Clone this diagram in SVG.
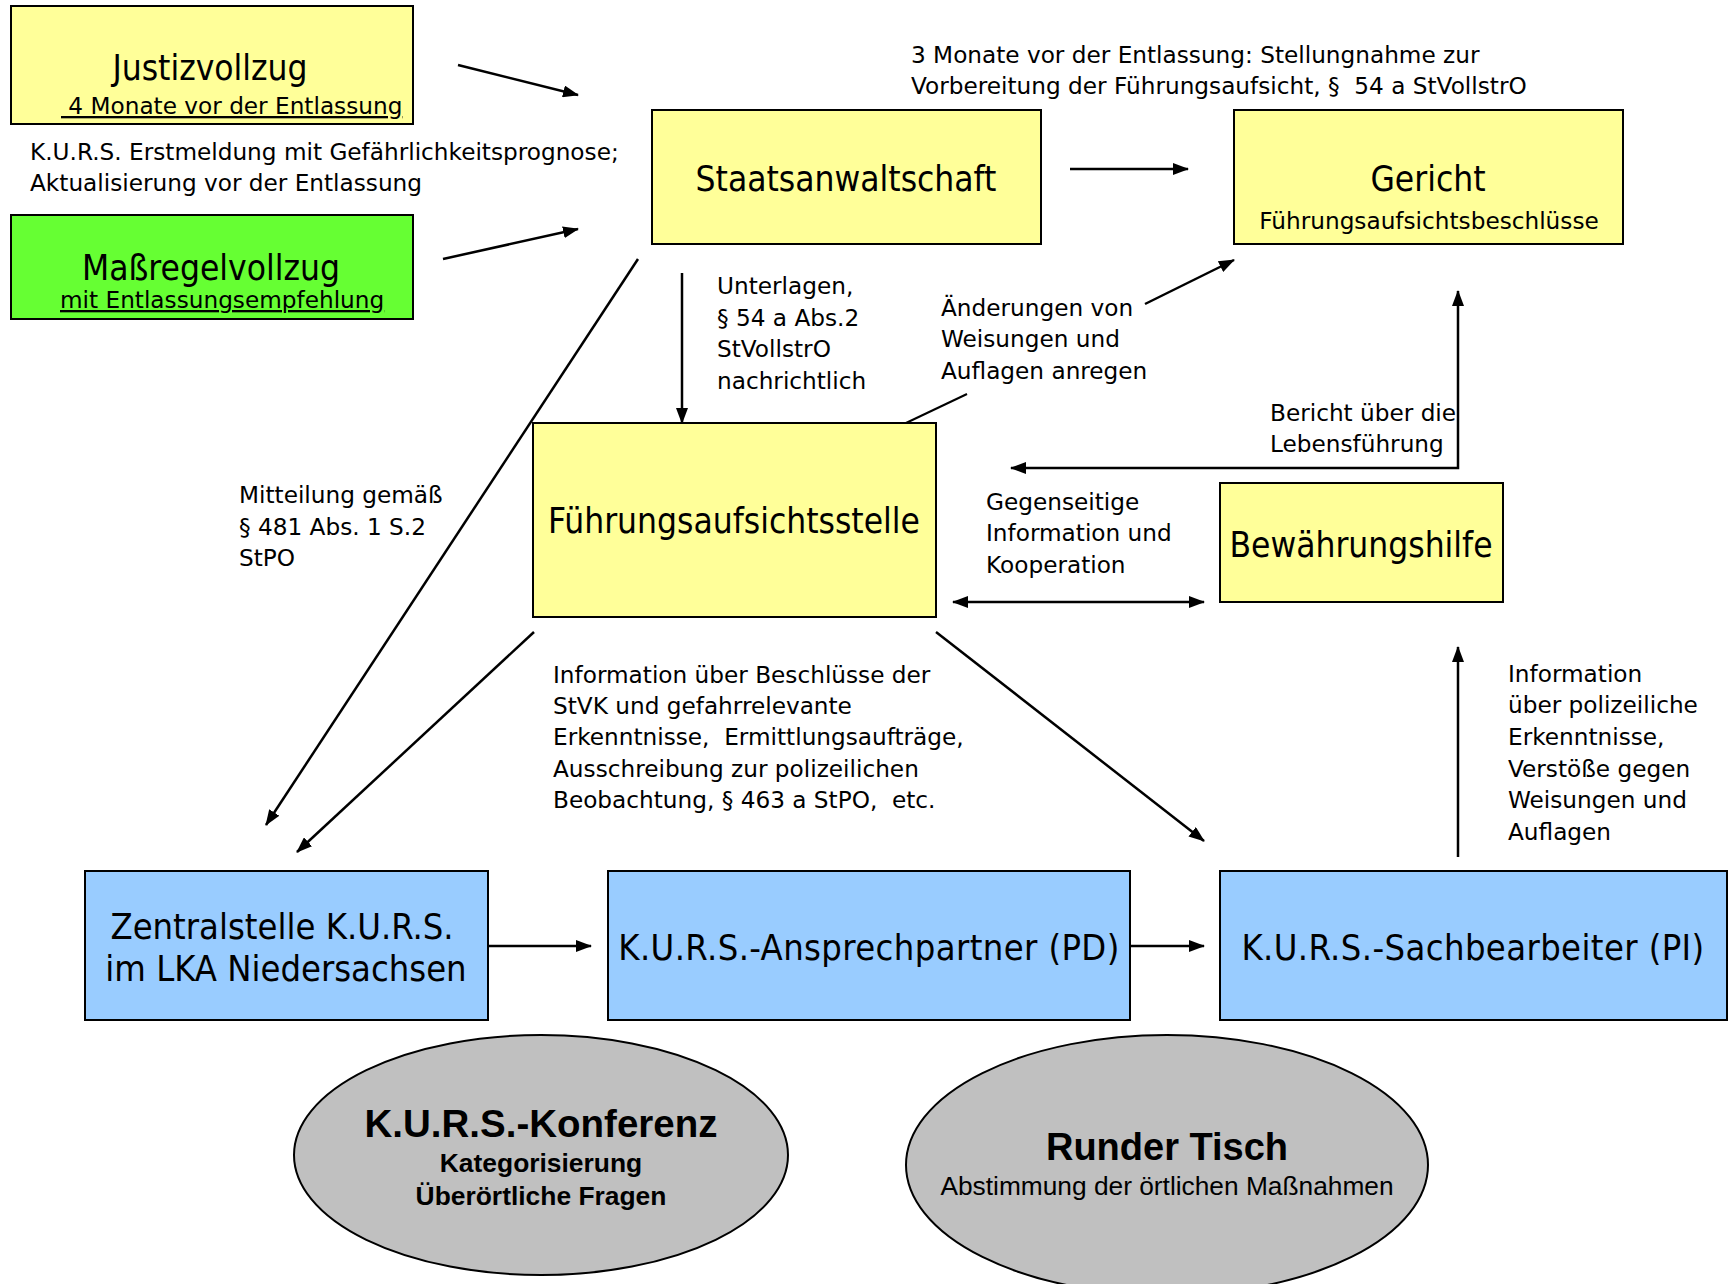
<svg xmlns="http://www.w3.org/2000/svg" width="1733" height="1284" viewBox="0 0 1733 1284">
<defs>
<marker id="ah" viewBox="0 0 16 12" refX="15" refY="6" markerWidth="16" markerHeight="12" markerUnits="userSpaceOnUse" orient="auto-start-reverse">
<path d="M0,0 L16,6 L0,12 z" fill="#000"/>
</marker>
<style>
.t{font-family:'DejaVu Sans Condensed','DejaVu Sans',sans-serif;font-stretch:condensed;fill:#000}
.w{font-family:'DejaVu Sans',Verdana,sans-serif;fill:#000}
.big{font-size:35px}
.bot{font-size:36px;letter-spacing:0.4px}
.bot2{font-size:36px}
.lbl{font-size:23.2px}
.a{font-family:'Liberation Sans',Arial,sans-serif;fill:#000}
.c{text-anchor:middle}
.box{stroke:#000;stroke-width:2}
.y{fill:#FFFF99}
.b{fill:#99CCFF}
.ell{fill:#C0C0C0;stroke:#000;stroke-width:2}
.con line,.con path{stroke:#000;stroke-width:2.5;fill:none}
.ar{marker-end:url(#ah)}
</style>
</defs>
<rect width="1733" height="1284" fill="#fff"/>

<g id="justizvollzug">
<rect class="box y" x="11" y="6" width="402" height="118"/>
<text class="t big c" x="210" y="80">Justizvollzug</text>
<text class="w lbl" x="61" y="114" xml:space="preserve" text-decoration="underline"> 4 Monate vor der Entlassung</text>
</g>

<g id="massregelvollzug">
<rect class="box" x="11" y="215" width="402" height="104" fill="#66FF33"/>
<text class="t big c" x="211" y="280">Maßregelvollzug</text>
<text class="w lbl" x="60" y="308" text-decoration="underline">mit Entlassungsempfehlung</text>
</g>

<g id="label-kurs-erstmeldung">
<text class="w lbl" x="30" y="160">K.U.R.S. Erstmeldung mit Gefährlichkeitsprognose;</text>
<text class="w lbl" x="30" y="191">Aktualisierung vor der Entlassung</text>
</g>

<g id="staatsanwaltschaft">
<rect class="box y" x="652" y="110" width="389" height="134"/>
<text class="t big c" x="846" y="191">Staatsanwaltschaft</text>
</g>

<g id="gericht">
<rect class="box y" x="1234" y="110" width="389" height="134"/>
<text class="t big c" x="1428" y="191">Gericht</text>
<text class="w lbl c" x="1429" y="229">Führungsaufsichtsbeschlüsse</text>
</g>

<g id="label-stellungnahme">
<text class="w lbl" x="911" y="63">3 Monate vor der Entlassung: Stellungnahme zur</text>
<text class="w lbl" x="911" y="94" xml:space="preserve">Vorbereitung der Führungsaufsicht, §  54 a StVollstrO</text>
</g>

<g id="fuehrungsaufsichtsstelle">
<rect class="box y" x="533" y="423" width="403" height="194"/>
<text class="t big c" x="734" y="533">Führungsaufsichtsstelle</text>
</g>

<g id="bewaehrungshilfe">
<rect class="box y" x="1220" y="483" width="283" height="119"/>
<text class="t big c" x="1361" y="557">Bewährungshilfe</text>
</g>

<g id="zentralstelle">
<rect class="box b" x="85" y="871" width="403" height="149"/>
<text class="t bot2 c" x="282" y="939">Zentralstelle K.U.R.S.</text>
<text class="t bot2 c" x="286" y="981">im LKA Niedersachsen</text>
</g>

<g id="ansprechpartner">
<rect class="box b" x="608" y="871" width="522" height="149"/>
<text class="t bot c" x="869" y="960">K.U.R.S.-Ansprechpartner (PD)</text>
</g>

<g id="sachbearbeiter">
<rect class="box b" x="1220" y="871" width="507" height="149"/>
<text class="t bot c" x="1473" y="960">K.U.R.S.-Sachbearbeiter (PI)</text>
</g>

<g id="kurs-konferenz">
<ellipse class="ell" cx="541" cy="1155" rx="247" ry="120"/>
<text class="a c" x="541" y="1137" font-size="38.5" font-weight="bold">K.U.R.S.-Konferenz</text>
<text class="a c" x="541" y="1172" font-size="26.4" font-weight="bold">Kategorisierung</text>
<text class="a c" x="541" y="1205" font-size="26.4" font-weight="bold">Überörtliche Fragen</text>
</g>

<g id="runder-tisch">
<ellipse class="ell" cx="1167" cy="1165" rx="261" ry="130"/>
<text class="a c" x="1167" y="1160" font-size="38" font-weight="bold">Runder Tisch</text>
<text class="a c" x="1167" y="1195" font-size="26.3">Abstimmung der örtlichen Maßnahmen</text>
</g>

<g id="labels">
<text class="w lbl" x="717" y="294">Unterlagen,</text>
<text class="w lbl" x="717" y="326">§ 54 a Abs.2</text>
<text class="w lbl" x="717" y="357">StVollstrO</text>
<text class="w lbl" x="717" y="389">nachrichtlich</text>
<text class="w lbl" x="941" y="316">Änderungen von</text>
<text class="w lbl" x="941" y="347">Weisungen und</text>
<text class="w lbl" x="941" y="379">Auflagen anregen</text>
<text class="w lbl" x="1270" y="421">Bericht über die</text>
<text class="w lbl" x="1270" y="452">Lebensführung</text>
<text class="w lbl" x="986" y="510">Gegenseitige</text>
<text class="w lbl" x="986" y="541">Information und</text>
<text class="w lbl" x="986" y="573">Kooperation</text>
<text class="w lbl" x="239" y="503">Mitteilung gemäß</text>
<text class="w lbl" x="239" y="535">§ 481 Abs. 1 S.2</text>
<text class="w lbl" x="239" y="566">StPO</text>
<text class="w lbl" x="553" y="683">Information über Beschlüsse der</text>
<text class="w lbl" x="553" y="714">StVK und gefahrrelevante</text>
<text class="w lbl" x="553" y="745" xml:space="preserve">Erkenntnisse,  Ermittlungsaufträge,</text>
<text class="w lbl" x="553" y="777">Ausschreibung zur polizeilichen</text>
<text class="w lbl" x="553" y="808" xml:space="preserve">Beobachtung, § 463 a StPO,  etc.</text>
<text class="w lbl" x="1508" y="682">Information</text>
<text class="w lbl" x="1508" y="713">über polizeiliche</text>
<text class="w lbl" x="1508" y="745">Erkenntnisse,</text>
<text class="w lbl" x="1508" y="777">Verstöße gegen</text>
<text class="w lbl" x="1508" y="808">Weisungen und</text>
<text class="w lbl" x="1508" y="840">Auflagen</text>
</g>

<g id="connectors" class="con">
<line class="ar" x1="458" y1="65" x2="578" y2="95"/>
<line class="ar" x1="443" y1="259" x2="578" y2="229"/>
<line class="ar" x1="1070" y1="169" x2="1188" y2="169"/>
<line class="ar" x1="682" y1="273" x2="682" y2="423"/>
<line class="ar" x1="638" y1="259" x2="266" y2="825"/>
<line class="ar" x1="534" y1="632" x2="297" y2="852"/>
<line class="ar" x1="936" y1="632" x2="1204" y2="841"/>
<line class="ar" x1="953" y1="602" x2="1204" y2="602" marker-start="url(#ah)"/>
<path class="ar" d="M1011,468 L1458,468 L1458,291" marker-start="url(#ah)"/>
<line class="ar" x1="1458" y1="857" x2="1458" y2="647"/>
<line class="ar" x1="489" y1="946" x2="591" y2="946"/>
<line class="ar" x1="1131" y1="946" x2="1204" y2="946"/>
<line class="ar" x1="1145" y1="304" x2="1234" y2="260"/>
<line x1="906" y1="423" x2="967" y2="394" style="stroke-width:2"/>
</g>
</svg>
